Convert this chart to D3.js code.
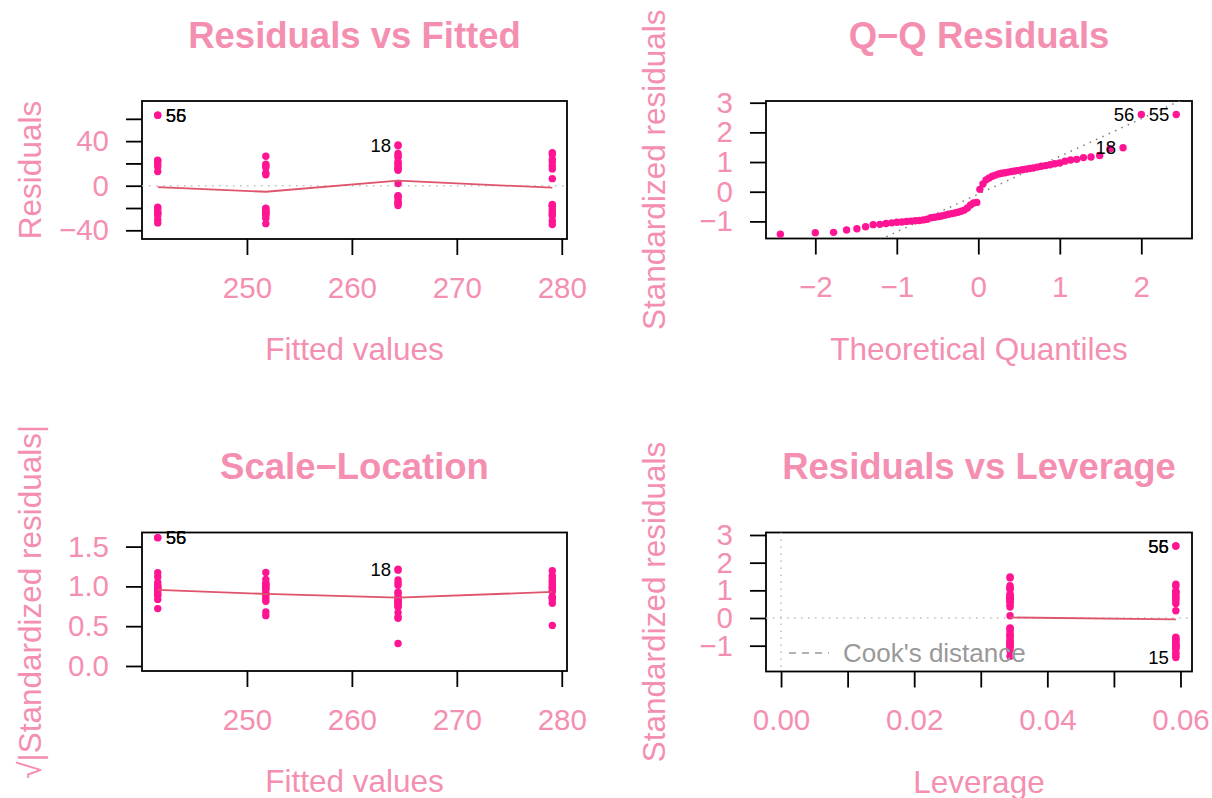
<!DOCTYPE html>
<meta charset="utf-8">
<style>

body {
  margin: 0;
  background: #fff;
}

text {
  font-family: "Liberation Sans", Arial, Helvetica, sans-serif;
}

</style>
<body>
<script src="https://cdn.jsdelivr.net/npm/d3@7"></script>
<script>

// four fitted levels of the model, with their hat values
var fitted = [241.5, 251.8, 264.4, 279.1],
    leverage = [0.0593, 0.0344, 0.0344, 0.0593],
    sigma = 25.1;

// standardized residuals, one array per fitted level
var stdResA = [2.60, 2.60, 0.94, 0.91, 0.80, 0.70, 0.52, -0.79, -0.86, -0.97, -1.00, -1.02, -1.10, -1.25, -1.37],
    stdResB = [1.07, 0.78, 0.72, 0.66, 0.46, 0.40, -0.82, -0.84, -0.93, -0.95, -0.99, -1.03, -1.07, -1.18, -1.38],
    stdResC = [1.48, 1.45, 1.17, 1.09, 1.03, 0.86, 0.83, 0.76, 0.68, 0.64, 0.60, 0.56, 0.08, -0.36, -0.38, -0.45, -0.55, -0.62, -0.66, -0.72],
    stdResD = [1.22, 1.15, 0.97, 0.88, 0.74, 0.62, 0.26, -0.69, -0.74, -0.76, -0.88, -0.98, -1.05, -1.11, -1.29, -1.43];

// observation numbers shown next to points
var idLabels = ["56", "55", "18", "15"],
    idGroup = [0, 0, 2, 3],
    idIndex = [0, 1, 0, 15];

// red smoother lines
var smoothResid = [-1.2, -5.4, 4.5, -1.8],
    smoothScale = [0.955, 0.905, 0.86, 0.93],
    smoothLevX = [0.0344, 0.0593],
    smoothLevY = [0.02, -0.05];

var qqSlope = 1.27,
    qqIntercept = -0.08;

var xTicks1 = [250, 260, 270, 280],
    yTicks1 = [-40, -20, 0, 20, 40, 60],
    yLabels1 = [-40, 0, 40],
    xTicks2 = [-2, -1, 0, 1, 2],
    yTicks2 = [-1, 0, 1, 2, 3],
    yTicks3 = [0, 0.5, 1, 1.5],
    xTicks4 = [0, 0.01, 0.02, 0.03, 0.04, 0.05, 0.06],
    xLabels4 = [0, 0.02, 0.04, 0.06],
    yTicks4 = [-1, 0, 1, 2, 3];

var width = 1212,
    height = 798,
    pink = "#f48fb1",
    dotPink = "#ff1493",
    smoothRed = "#df536b";

var svg = d3.select("body").append("svg")
    .attr("width", width)
    .attr("height", height);

var obs = [];
[stdResA, stdResB, stdResC, stdResD].forEach(function(g, k) {
  g.forEach(function(s, j) {
    obs.push({
      group: k, index: j, fitted: fitted[k], hat: leverage[k], std: s,
      resid: s * sigma * Math.sqrt(1 - leverage[k]), id: null
    });
  });
});
idLabels.forEach(function(lab, m) {
  obs.forEach(function(o) {
    if (o.group === idGroup[m] && o.index === idIndex[m]) o.id = lab;
  });
});

// inverse normal cdf (Acklam)
function qnorm(p) {
  var a = [-39.69683028665376, 220.9460984245205, -275.9285104469687, 138.3577518672690, -30.66479806614716, 2.506628277459239],
      b = [-54.47609879822406, 161.5858368580409, -155.6989798598866, 66.80131188771972, -13.28068155288572],
      c = [-0.007784894002430293, -0.3223964580411365, -2.400758277161838, -2.549732539343734, 4.374664141464968, 2.938163982698783],
      d = [0.007784695709041462, 0.3224671290700398, 2.445134137142996, 3.754408661907416],
      q, r;
  if (p < 0.02425) {
    q = Math.sqrt(-2 * Math.log(p));
    return (((((c[0]*q+c[1])*q+c[2])*q+c[3])*q+c[4])*q+c[5]) / ((((d[0]*q+d[1])*q+d[2])*q+d[3])*q+1);
  }
  if (p > 1 - 0.02425) {
    q = Math.sqrt(-2 * Math.log(1 - p));
    return -(((((c[0]*q+c[1])*q+c[2])*q+c[3])*q+c[4])*q+c[5]) / ((((d[0]*q+d[1])*q+d[2])*q+d[3])*q+1);
  }
  q = p - 0.5; r = q * q;
  return (((((a[0]*r+a[1])*r+a[2])*r+a[3])*r+a[4])*r+a[5])*q / (((((b[0]*r+b[1])*r+b[2])*r+b[3])*r+b[4])*r+1);
}

var clipId = 0;

function panel(cfg) {
  var x = d3.scaleLinear().domain(cfg.xDomain).range([cfg.x0, cfg.x1]),
      y = d3.scaleLinear().domain(cfg.yDomain).range([cfg.y1, cfg.y0]),
      g = svg.append("g");

  var id = "clip" + (clipId++);
  g.append("clipPath").attr("id", id)
    .append("rect")
      .attr("x", cfg.x0).attr("y", cfg.y0)
      .attr("width", cfg.x1 - cfg.x0).attr("height", cfg.y1 - cfg.y0);

  var xAxis = g.append("g")
      .attr("transform", "translate(0," + cfg.y1 + ")")
      .attr("color", "#000")
      .call(d3.axisBottom(x).tickValues(cfg.xTicks).tickSize(16).tickPadding(22)
        .tickFormat(function(d) { return (!cfg.xLabels || cfg.xLabels.indexOf(d) >= 0) ? cfg.xFormat(d) : ""; }));

  var yAxis = g.append("g")
      .attr("transform", "translate(" + cfg.x0 + ",0)")
      .attr("color", "#000")
      .call(d3.axisLeft(y).tickValues(cfg.yTicks).tickSize(16).tickPadding(17)
        .tickFormat(function(d) { return (!cfg.yLabels || cfg.yLabels.indexOf(d) >= 0) ? cfg.yFormat(d) : ""; }));

  [xAxis, yAxis].forEach(function(a) {
    a.select(".domain").remove();
    a.selectAll("line").attr("stroke-width", 1.8);
    a.selectAll("text").attr("fill", pink).style("font-size", "29.5px");
  });

  g.append("rect")
      .attr("x", cfg.x0).attr("y", cfg.y0)
      .attr("width", cfg.x1 - cfg.x0).attr("height", cfg.y1 - cfg.y0)
      .attr("fill", "none")
      .attr("stroke", "#000")
      .attr("stroke-width", 1.8);

  g.append("text")
      .attr("x", (cfg.x0 + cfg.x1) / 2)
      .attr("y", cfg.y0 - 53.5)
      .attr("text-anchor", "middle")
      .attr("fill", pink)
      .style("font-size", "36.5px")
      .style("font-weight", "bold")
      .text(cfg.title);

  g.append("text")
      .attr("x", (cfg.x0 + cfg.x1) / 2)
      .attr("y", cfg.y1 + 121)
      .attr("text-anchor", "middle")
      .attr("fill", pink)
      .style("font-size", "31.5px")
      .text(cfg.xTitle);

  g.append("text")
      .attr("transform", "translate(" + (cfg.x0 - 101.5) + "," + ((cfg.y0 + cfg.y1) / 2) + ") rotate(-90)")
      .attr("text-anchor", "middle")
      .attr("fill", pink)
      .style("font-size", "31.5px")
      .text(cfg.yTitle);

  return {x: x, y: y, g: g, clip: "url(#" + id + ")"};
}

function dotted(p, x1, y1, x2, y2, color, dash) {
  p.g.append("line")
      .attr("clip-path", p.clip)
      .attr("x1", x1).attr("y1", y1).attr("x2", x2).attr("y2", y2)
      .attr("stroke", color)
      .attr("stroke-width", 1.5)
      .attr("stroke-dasharray", dash);
}

function dots(p, data, fx, fy) {
  p.g.append("g").selectAll("circle")
    .data(data)
    .join("circle")
      .attr("cx", function(d) { return p.x(fx(d)); })
      .attr("cy", function(d) { return p.y(fy(d)); })
      .attr("r", 3.7)
      .attr("fill", dotPink);
}

function smooth(p, xs, ys) {
  p.g.append("path")
      .datum(xs.map(function(v, i) { return [v, ys[i]]; }))
      .attr("fill", "none")
      .attr("stroke", smoothRed)
      .attr("stroke-width", 1.8)
      .attr("d", d3.line().x(function(d) { return p.x(d[0]); }).y(function(d) { return p.y(d[1]); }));
}

function ids(p, data, ids, fx, fy) {
  var range = p.x.domain(), mid = (range[0] + range[1]) / 2;
  ids.slice().reverse().forEach(function(lab) {
    var d = data.filter(function(o) { return o.id === lab; })[0],
        px = p.x(fx(d)),
        left = fx(d) > mid;
    p.g.append("text")
        .attr("x", left ? px - 7 : px + 8)
        .attr("y", p.y(fy(d)))
        .attr("dy", "0.35em")
        .attr("text-anchor", left ? "end" : "start")
        .style("font-size", "18.5px")
        .attr("fill", "#000")
        .text(lab);
  });
}

var fmtInt = d3.format("d");

// Residuals vs Fitted
var p1 = panel({
  x0: 142, x1: 567, y0: 101, y1: 239,
  xDomain: [240.0, 280.5], yDomain: [-47.8, 76.0],
  xTicks: xTicks1, xFormat: fmtInt,
  yTicks: yTicks1, yLabels: yLabels1, yFormat: fmtInt,
  title: "Residuals vs Fitted", xTitle: "Fitted values", yTitle: "Residuals"
});
dotted(p1, 142, p1.y(0), 567, p1.y(0), "#bebebe", "1.5,5.5");
dots(p1, obs, function(d) { return d.fitted; }, function(d) { return d.resid; });
smooth(p1, fitted, smoothResid);
ids(p1, obs, ["56", "55", "18"], function(d) { return d.fitted; }, function(d) { return d.resid; });

// Q-Q Residuals
var sorted = obs.slice().sort(function(a, b) { return a.std - b.std; });
sorted.forEach(function(o, i) { o.theo = qnorm((i + 0.5) / sorted.length); });
var p2 = panel({
  x0: 766, x1: 1192, y0: 101, y1: 238.5,
  xDomain: [-2.605, 2.622], yDomain: [-1.577, 3.057],
  xTicks: xTicks2, xFormat: fmtInt,
  yTicks: yTicks2, yFormat: fmtInt,
  title: "Q\u2212Q Residuals", xTitle: "Theoretical Quantiles", yTitle: "Standardized residuals"
});
dotted(p2, p2.x(-3), p2.y(qqIntercept - 3 * qqSlope), p2.x(3), p2.y(qqIntercept + 3 * qqSlope), "#7f7f7f", "1.5,5.5");
dots(p2, sorted, function(d) { return d.theo; }, function(d) { return d.std; });
ids(p2, sorted, ["56", "55", "18"], function(d) { return d.theo; }, function(d) { return d.std; });

// Scale-Location
var p3 = panel({
  x0: 142, x1: 567, y0: 532.5, y1: 671,
  xDomain: [240.0, 280.5], yDomain: [-0.063, 1.677],
  xTicks: xTicks1, xFormat: fmtInt,
  yTicks: yTicks3, yFormat: d3.format(".1f"),
  title: "Scale\u2212Location", xTitle: "Fitted values", yTitle: "\u221a|Standardized residuals|"
});
dots(p3, obs, function(d) { return d.fitted; }, function(d) { return Math.sqrt(Math.abs(d.std)); });
smooth(p3, fitted, smoothScale);
ids(p3, obs, ["56", "55", "18"], function(d) { return d.fitted; }, function(d) { return Math.sqrt(Math.abs(d.std)); });

// Residuals vs Leverage
var p4 = panel({
  x0: 766, x1: 1192, y0: 532.5, y1: 671.5,
  xDomain: [-0.00226, 0.06173], yDomain: [-1.933, 3.09],
  xTicks: xTicks4, xLabels: xLabels4, xFormat: d3.format(".2f"),
  yTicks: yTicks4, yFormat: fmtInt,
  title: "Residuals vs Leverage", xTitle: "Leverage", yTitle: "Standardized residuals"
});
dotted(p4, 766, p4.y(0), 1192, p4.y(0), "#bebebe", "1.5,5.5");
dotted(p4, p4.x(0), 532.5, p4.x(0), 671.5, "#bebebe", "1.5,5.5");
dots(p4, obs, function(d) { return d.hat; }, function(d) { return d.std; });
smooth(p4, smoothLevX, smoothLevY);
ids(p4, obs, ["56", "55", "15"], function(d) { return d.hat; }, function(d) { return d.std; });

p4.g.append("line")
    .attr("x1", 789).attr("x2", 829)
    .attr("y1", 653).attr("y2", 653)
    .attr("stroke", "#999")
    .attr("stroke-width", 1.5)
    .attr("stroke-dasharray", "7,6");
p4.g.append("text")
    .attr("x", 843)
    .attr("y", 653)
    .attr("dy", "0.35em")
    .attr("fill", "#999")
    .style("font-size", "26px")
    .text("Cook's distance");

</script>
